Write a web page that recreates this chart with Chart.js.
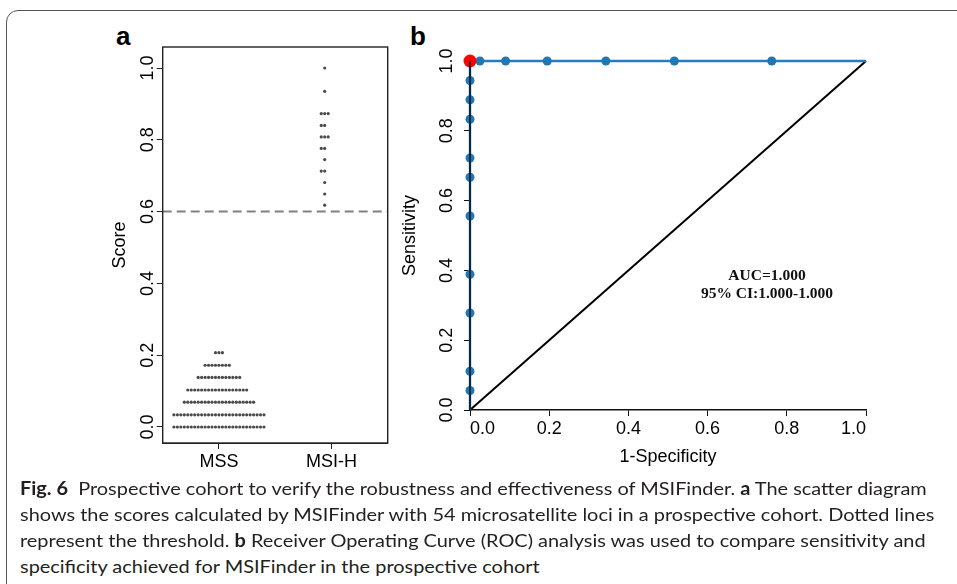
<!DOCTYPE html>
<html>
<head>
<meta charset="utf-8">
<script src="https://cdn.jsdelivr.net/npm/chart.js@4.4.0/dist/chart.umd.min.js"></script>
<style>
  body{margin:0;background:#fff;width:957px;height:584px;overflow:hidden;position:relative;font-family:"Liberation Sans",Arial,sans-serif}
  .frame{position:absolute;left:6px;top:10px;width:1100px;height:800px;border:1.6px solid #555;border-radius:12px;box-sizing:border-box}
  canvas{position:absolute;top:0}
  #chart-a{left:100px}
  #chart-b{left:395px}
  .letter{position:absolute;font:bold 26px "Liberation Sans",Arial,sans-serif;line-height:26px;color:#000}
  .auc{position:absolute;left:667px;width:200px;text-align:center;font:bold 15.5px "Liberation Serif","Times New Roman",serif;line-height:18px;color:#111}
  .cap{position:absolute;left:20px;white-space:nowrap;font:18px Lato,"Open Sans",sans-serif;line-height:26px;color:#231f20;transform-origin:0 0}
  .cap b{font-weight:bold}
</style>
</head>
<body>
<div class="frame"></div>
<div class="letter" style="left:116px;top:23px">a</div>
<div class="letter" style="left:410px;top:23px">b</div>
<canvas id="chart-a" width="300" height="480"></canvas>
<canvas id="chart-b" width="562" height="480"></canvas>
<div class="auc" style="top:266px">AUC=1.000</div>
<div class="auc" style="top:284px">95% CI:1.000-1.000</div>
<div class="cap" data-w="912" style="top:475px"><b>Fig. 6</b>&nbsp; Prospective cohort to verify the robustness and effectiveness of MSIFinder. <b>a</b> The scatter diagram</div>
<div class="cap" data-w="917" style="top:501px">shows the scores calculated by MSIFinder with 54 microsatellite loci in a prospective cohort. Dotted lines</div>
<div class="cap" data-w="898" style="top:527px">represent the threshold. <b>b</b> Receiver Operating Curve (ROC) analysis was used to compare sensitivity and</div>
<div class="cap" style="top:553px">specificity achieved for MSIFinder in the prospective cohort</div>
<script>
// panel a : scores per row (bottom to top) and number of samples in each row
const groups = ['MSS', 'MSI-H']
const groupCenters = [1, 1.94]
const scoresMSS = [0, 0.034, 0.069, 0.103, 0.138, 0.172, 0.207]
const countsMSS = [27, 27, 21, 18, 13, 8, 3]
const scoresMSIH = [0.618, 0.649, 0.681, 0.713, 0.745, 0.776, 0.808, 0.840, 0.873, 0.935, 1.0]
const countsMSIH = [1, 1, 1, 2, 1, 2, 3, 2, 3, 1, 1]
const threshold = 0.6
const scoreTicks = [0, 0.2, 0.4, 0.6, 0.8, 1.0]
const scoreTickLabels = ['0.0', '0.2', '0.4', '0.6', '0.8', '1.0']

// panel b : ROC
const rocTicks = [0, 0.2, 0.4, 0.6, 0.8, 1.0]
const rocTickLabels = ['0.0', '0.2', '0.4', '0.6', '0.8', '1.0']
const rocCurveX = [0, 0, 1]
const rocCurveY = [0, 1, 1]
const pointsSensitivity = [0.056, 0.111, 0.278, 0.389, 0.556, 0.667, 0.722, 0.833, 0.889, 0.944, 1.0]
const pointsFpr = [0.025, 0.090, 0.195, 0.343, 0.516, 0.762]
const bestPoint = {x: 0, y: 1}

const FONT = '"Liberation Sans", Arial, sans-serif'
Chart.defaults.font.family = FONT
Chart.defaults.color = '#000'

const dotStep = 0.0308

function stackRows(center, scores, counts){
    const pts = []
    scores.forEach((s, r) => {
        const n = counts[r]
        for (let i = 0; i < n; i++)
            pts.push({x: center + (i - Math.floor(n / 2)) * dotStep, y: s})
    })
    return pts
}

function rotatedYLabels(labels, offset){
    return {
        id: 'rotatedYLabels',
        afterDraw(chart){
            const ctx = chart.ctx
            const y = chart.scales.y
            ctx.save()
            ctx.font = '18px ' + FONT
            ctx.fillStyle = '#000'
            ctx.textAlign = 'center'
            ctx.textBaseline = 'middle'
            y.ticks.forEach((t, i) => {
                ctx.save()
                ctx.translate(chart.chartArea.left - offset, y.getPixelForValue(t.value))
                ctx.rotate(-Math.PI / 2)
                ctx.fillText(labels[i], 0, 0)
                ctx.restore()
            })
            ctx.restore()
        }
    }
}

const boxPlugin = {
    id: 'box',
    afterDraw(chart){
        const {left, top, right, bottom} = chart.chartArea
        const ctx = chart.ctx
        ctx.save()
        ctx.strokeStyle = '#222'
        ctx.lineWidth = 1.4
        ctx.strokeRect(left, top, right - left, bottom - top)
        ctx.restore()
    }
}

const mssPoints = stackRows(groupCenters[0], scoresMSS, countsMSS)
const msihPoints = stackRows(groupCenters[1], scoresMSIH, countsMSIH)

new Chart(document.querySelector('#chart-a'), {
    type: 'scatter',
    data: {
        datasets: [{
            data: mssPoints,
            pointRadius: 1.6,
            backgroundColor: '#4a4a4a',
            borderWidth: 0
        }, {
            data: msihPoints,
            pointRadius: 1.6,
            backgroundColor: '#4a4a4a',
            borderWidth: 0
        }, {
            type: 'line',
            data: [{x: 0.5, y: threshold}, {x: 2.5, y: threshold}],
            borderColor: '#808080',
            borderWidth: 2,
            borderDash: [9, 5],
            pointRadius: 0
        }]
    },
    options: {
        responsive: false,
        animation: false,
        layout: {padding: {left: 0, top: 47, right: 12.3, bottom: 0}},
        plugins: {legend: {display: false}, tooltip: {enabled: false}},
        scales: {
            x: {
                type: 'linear', min: 0.5, max: 2.5,
                afterBuildTicks: s => { s.ticks = groupCenters.map((c, i) => ({value: i + 1})) },
                afterFit: s => { s.height = 37 },
                ticks: {callback: (v, i) => groups[i], font: {size: 18}, padding: 2, maxRotation: 0},
                grid: {drawOnChartArea: false, tickLength: 6, color: '#222'},
                border: {color: '#222'}
            },
            y: {
                min: -0.0446, max: 1.0585,
                afterBuildTicks: s => { s.ticks = scoreTicks.map(v => ({value: v})) },
                afterFit: s => { s.width = 62.7 },
                ticks: {display: false},
                grid: {drawOnChartArea: false, tickLength: 6, color: '#222'},
                border: {color: '#222'},
                title: {display: true, text: 'Score', font: {size: 18}, padding: {top: 9.2, bottom: 0}}
            }
        }
    },
    plugins: [boxPlugin, rotatedYLabels(scoreTickLabels, 15)]
})

const blueVertical = pointsSensitivity.map(s => ({x: 0, y: s}))
const blueHorizontal = pointsFpr.map(f => ({x: f, y: 1}))

new Chart(document.querySelector('#chart-b'), {
    type: 'scatter',
    data: {
        datasets: [{
            // dark vertical segment drawn over the points, as in the figure
            type: 'line',
            data: [{x: 0, y: 0}, {x: 0, y: 1}],
            borderColor: '#0b1f33',
            borderWidth: 1.8,
            pointRadius: 0,
            clip: false
        }, {
            data: [bestPoint],
            pointRadius: 6.5,
            backgroundColor: '#ff0000',
            borderWidth: 0,
            clip: false
        }, {
            data: blueVertical.concat(blueHorizontal),
            pointRadius: 4.5,
            backgroundColor: '#1f77b4',
            borderWidth: 0,
            clip: false
        }, {
            type: 'line',
            data: rocCurveX.map((x, i) => ({x: x, y: rocCurveY[i]})),
            borderColor: '#2b7bba',
            borderWidth: 2.4,
            pointRadius: 0,
            clip: false
        }, {
            type: 'line',
            data: [{x: 0, y: 0}, {x: 1, y: 1}],
            borderColor: '#000',
            borderWidth: 2,
            pointRadius: 0,
            clip: false
        }]
    },
    options: {
        responsive: false,
        animation: false,
        layout: {padding: {left: 0, top: 61, right: 91, bottom: 0}},
        plugins: {legend: {display: false}, tooltip: {enabled: false}},
        scales: {
            x: {
                type: 'linear', min: 0, max: 1,
                afterBuildTicks: s => { s.ticks = rocTicks.map(v => ({value: v})) },
                afterFit: s => { s.height = 70 },
                ticks: {callback: (v, i) => rocTickLabels[i], font: {size: 18}, padding: 2, align: 'inner', maxRotation: 0},
                grid: {drawOnChartArea: false, tickLength: 6, color: '#111'},
                border: {color: '#111', width: 1.5},
                title: {display: true, text: '1-Specificity', font: {size: 18}, padding: {top: 0, bottom: 12.2}}
            },
            y: {
                type: 'linear', min: 0, max: 1,
                afterBuildTicks: s => { s.ticks = rocTicks.map(v => ({value: v})) },
                afterFit: s => { s.width = 75 },
                ticks: {display: false},
                grid: {drawOnChartArea: false, tickLength: 6, color: '#111'},
                border: {display: false},
                title: {display: true, text: 'Sensitivity', font: {size: 18}, padding: {top: 4.2, bottom: 0}}
            }
        }
    },
    plugins: [rotatedYLabels(rocTickLabels, 23)]
})

// caption: one common horizontal scale, taken from the widths of the full lines
const caps = [...document.querySelectorAll('.cap')]
const fitted = caps.filter(el => el.dataset.w)
let k = 0
fitted.forEach(el => { k += el.dataset.w / el.scrollWidth })
k = k / fitted.length
caps.forEach(el => { el.style.transform = `scaleX(${k})` })
</script>
</body>
</html>
